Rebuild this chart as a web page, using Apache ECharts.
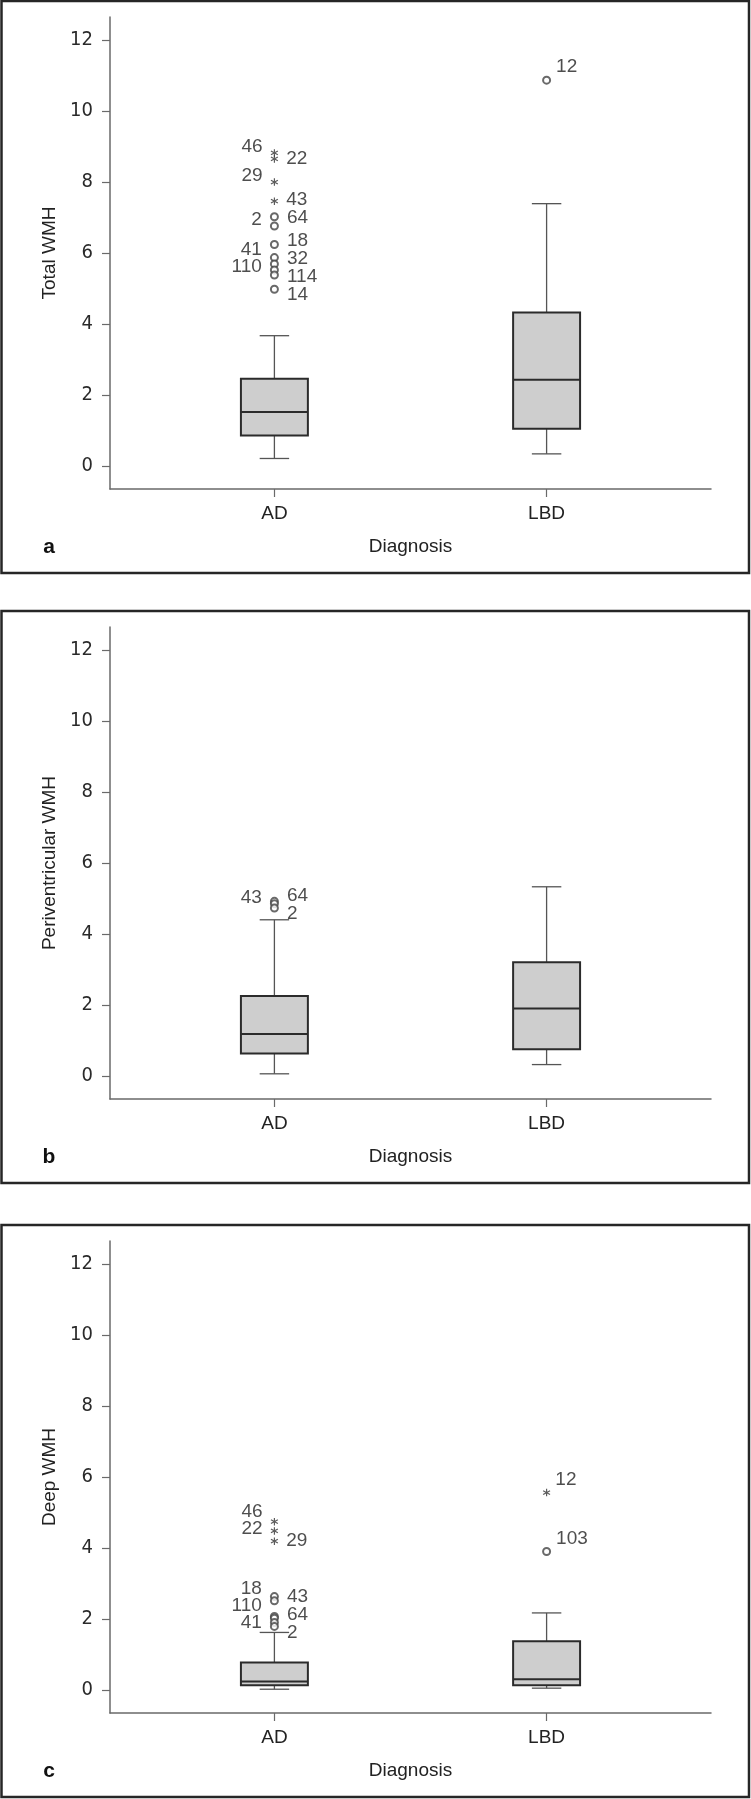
<!DOCTYPE html>
<html>
<head>
<meta charset="utf-8">
<script src="https://cdn.jsdelivr.net/npm/echarts@6/dist/echarts.min.js"></script>
<style>
  html, body { margin: 0; padding: 0; background: #ffffff; }
  #chart { width: 751px; height: 1799px; }
</style>
</head>
<body>
<div id="chart"></div>
<script>
// ---------------- data ----------------
const categories = ['AD', 'LBD'];
const yTitles = ['Total WMH', 'Periventricular WMH', 'Deep WMH'];
const panelLetters = ['a', 'b', 'c'];
const xTitle = 'Diagnosis';
const tickLabels = [0, 2, 4, 6, 8, 10, 12];

// five-number summaries: [lower whisker, Q1, median, Q3, upper whisker]
const totalAD  = [0.21, 0.86, 1.52, 2.46, 3.67];
const totalLBD = [0.34, 1.05, 2.43, 4.32, 7.39];
const periAD   = [0.06, 0.63, 1.18, 2.25, 4.40];
const periLBD  = [0.32, 0.75, 1.90, 3.20, 5.33];
const deepAD   = [0.02, 0.13, 0.235, 0.77, 1.62];
const deepLBD  = [0.05, 0.13, 0.30, 1.37, 2.17];

// outliers: [value, case id, kind] kind '*' = extreme, 'o' = outlier
const totalADOut = [[8.82, 46, '*'], [8.65, 22, '*'], [8.00, 29, '*'], [7.46, 43, '*'],
  [7.02, 64, 'o'], [6.76, 2, 'o'], [6.24, 18, 'o'], [5.87, 41, 'o'], [5.69, 32, 'o'],
  [5.52, 110, 'o'], [5.38, 114, 'o'], [4.98, 14, 'o']];
const totalLBDOut = [[10.87, 12, 'o']];
const periADOut = [[4.92, 64, 'o'], [4.85, 43, 'o'], [4.73, 2, 'o']];
const periLBDOut = [];
const deepADOut = [[4.74, 46, '*'], [4.48, 22, '*'], [4.19, 29, '*'],
  [2.63, 18, 'o'], [2.51, 43, 'o'], [2.07, 110, 'o'], [2.02, 64, 'o'], [1.90, 41, 'o'], [1.79, 2, 'o']];
const deepLBDOut = [[5.56, 12, '*'], [3.90, 103, 'o']];

// ---------------- layout / style ----------------
const W = 751;
const panelTops = [1, 611, 1225];
const frameH = 572;
const gridTopOff = 16, gridH = 472;
const gridLeft = 110, gridRight = 40;
const yMin = -0.65, yMax = 12.65;
const xMin = 0.396, xMax = 2.604;
const pxPerUnit = gridH / (yMax - yMin);
const leftLabelIds = [[46, 29, 2, 41, 110], [43], [46, 22, 18, 110, 41]];

const FONT = "'Liberation Sans', Arial, sans-serif";
const TICKFONT = "'Liberation Sans Narrow', 'DejaVu Sans Condensed', 'Liberation Sans', sans-serif";
const TXT = '#222';

function asteriskPath() {
  let d = '';
  for (const a of [0, 60, 120]) {
    const r = a * Math.PI / 180;
    const dx = Math.sin(r), dy = -Math.cos(r);
    const nx = -dy * 0.15, ny = dx * 0.15;
    const pts = [[dx + nx, dy + ny], [dx - nx, dy - ny], [-dx - nx, -dy - ny], [-dx + nx, -dy + ny]];
    d += 'M' + pts.map(p => p[0].toFixed(3) + ' ' + p[1].toFixed(3)).join(' L') + ' Z ';
  }
  return 'path://' + d;
}
const STAR = asteriskPath();

// label offsets: spread labels of one side so they don't collide (relaxation)
function spreadOffsets(values, lift, minGap) {
  const items = values.map((v, i) => ({ i, base: v * pxPerUnit, t: v * pxPerUnit + lift }));
  items.sort((a, b) => b.t - a.t);
  for (let iter = 0; iter < 300; iter++) {
    let moved = false;
    for (let k = 1; k < items.length; k++) {
      const gap = items[k - 1].t - items[k].t;
      if (gap < minGap - 0.01) {
        const d = (minGap - gap) / 2;
        items[k - 1].t += d; items[k].t -= d; moved = true;
      }
    }
    if (!moved) break;
  }
  const off = [];
  items.forEach(it => { off[it.i] = -(it.t - it.base); });
  return off;
}

function outlierData(list, xPos, leftIds, upperRight) {
  const sides = list.map(o => (!upperRight && leftIds.includes(o[1])) ? 'left' : 'right');
  const offs = new Array(list.length).fill(0);
  if (!upperRight) {
    ['left', 'right'].forEach(s => {
      const idx = list.map((o, i) => i).filter(i => sides[i] === s);
      const o2 = s === 'left' ? spreadOffsets(idx.map(i => list[i][0]), 6, 17)
                              : spreadOffsets(idx.map(i => list[i][0]), 0, 18);
      idx.forEach((i, k) => { offs[i] = o2[k]; });
    });
  }
  return list.map((o, i) => ({
    value: [xPos, o[0], o[1]],
    symbol: o[2] === '*' ? STAR : 'emptyCircle',
    symbolSize: o[2] === '*' ? 7.5 : 7,
    itemStyle: o[2] === '*' ? { color: '#333', borderWidth: 0 } : { color: '#444', borderWidth: 1 },
    label: {
      position: sides[i],
      distance: upperRight ? 5 : 8,
      offset: upperRight ? [0, -13] : [0, offs[i]]
    }
  }));
}

const panels = [
  { box: [totalAD, totalLBD], out: [totalADOut, totalLBDOut] },
  { box: [periAD, periLBD], out: [periADOut, periLBDOut] },
  { box: [deepAD, deepLBD], out: [deepADOut, deepLBDOut] }
];

const grids = [], xAxes = [], yAxes = [], series = [], graphics = [];

panels.forEach((p, pi) => {
  const top = panelTops[pi];
  grids.push({ left: gridLeft, right: gridRight, top: top + gridTopOff, height: gridH });
  xAxes.push({
    type: 'value', gridIndex: pi, min: xMin, max: xMax,
    name: xTitle, nameLocation: 'middle', nameGap: 48,
    nameTextStyle: { fontFamily: FONT, fontSize: 19, color: TXT },
    axisLine: { show: true, onZero: false, lineStyle: { color: '#6a6a6a', width: 1.5 } },
    axisTick: { show: true, customValues: [1, 2], length: 8, lineStyle: { color: '#6a6a6a', width: 1.2 } },
    axisLabel: {
      customValues: [1, 2], margin: 15,
      formatter: v => categories[Math.round(v) - 1],
      fontFamily: FONT, fontSize: 19, color: TXT
    },
    splitLine: { show: false }
  });
  yAxes.push({
    type: 'value', gridIndex: pi, min: yMin, max: yMax,
    name: yTitles[pi], nameLocation: 'middle', nameGap: 49, nameRotate: 90,
    nameTextStyle: { fontFamily: FONT, fontSize: 19, color: TXT },
    axisLine: { show: true, onZero: false, lineStyle: { color: '#6a6a6a', width: 1.5 } },
    axisTick: { show: true, customValues: tickLabels, length: 8, lineStyle: { color: '#6a6a6a', width: 1.2 } },
    axisLabel: {
      customValues: tickLabels, margin: 17,
      fontFamily: TICKFONT, fontSize: 20, color: '#2a2a2a'
    },
    splitLine: { show: false }
  });

  series.push({
    type: 'custom', xAxisIndex: pi, yAxisIndex: pi, z: 3,
    data: p.box.map((b, k) => [k + 1].concat(b)),
    renderItem: function (params, api) {
      const x = api.value(0);
      const c = i => api.coord([x, api.value(i)]);
      const lo = c(1), q1 = c(2), md = c(3), q3 = c(4), hi = c(5);
      const cx = lo[0];
      const hw = api.size([1, 0])[0] * 0.123;
      const cw = hw * 0.44;
      const wStyle = { stroke: '#555', lineWidth: 1.3 };
      return {
        type: 'group',
        children: [
          { type: 'line', shape: { x1: cx, y1: hi[1], x2: cx, y2: q3[1] }, style: wStyle },
          { type: 'line', shape: { x1: cx, y1: q1[1], x2: cx, y2: lo[1] }, style: wStyle },
          { type: 'line', shape: { x1: cx - cw, y1: hi[1], x2: cx + cw, y2: hi[1] }, style: wStyle },
          { type: 'line', shape: { x1: cx - cw, y1: lo[1], x2: cx + cw, y2: lo[1] }, style: wStyle },
          { type: 'rect', shape: { x: cx - hw, y: q3[1], width: 2 * hw, height: q1[1] - q3[1] },
            style: { fill: '#cecece', stroke: '#2b2b2b', lineWidth: 2 } },
          { type: 'line', shape: { x1: cx - hw, y1: md[1], x2: cx + hw, y2: md[1] },
            style: { stroke: '#2b2b2b', lineWidth: 2 } }
        ]
      };
    }
  });

  p.out.forEach((list, gi) => {
    if (!list.length) return;
    series.push({
      type: 'scatter', xAxisIndex: pi, yAxisIndex: pi, z: 4,
      data: outlierData(list, gi + 1, leftLabelIds[pi], gi === 1),
      label: {
        show: true, formatter: d => String(d.value[2]),
        fontFamily: FONT, fontSize: 19, color: TXT
      },
      emphasis: { disabled: true }
    });
  });

  graphics.push({
    type: 'rect', shape: { x: 1.5, y: top, width: W - 3.5, height: frameH },
    style: { fill: 'none', stroke: '#262626', lineWidth: 2.5 }, silent: true
  });
  graphics.push({
    type: 'text', x: 49, y: top + 546,
    style: { text: panelLetters[pi], font: "bold 21px 'Liberation Sans', Arial, sans-serif",
      fill: '#111', align: 'center', verticalAlign: 'middle' }
  });
});

const chart = echarts.init(document.getElementById('chart'), null, { renderer: 'canvas' });
chart.setOption({
  animation: false,
  backgroundColor: '#ffffff',
  grid: grids,
  xAxis: xAxes,
  yAxis: yAxes,
  series: series,
  graphic: graphics
});
</script>
</body>
</html>
